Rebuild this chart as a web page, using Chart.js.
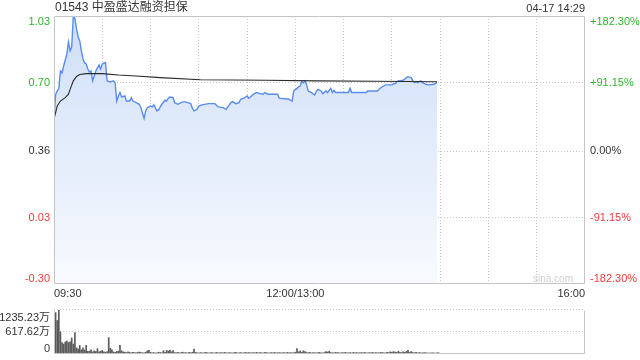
<!DOCTYPE html>
<html>
<head>
<meta charset="utf-8">
<script src="https://cdn.jsdelivr.net/npm/chart.js@4"></script>
<style>
body { margin:0; width:640px; height:360px; overflow:hidden; background:#fff; position:relative;
       font-family:"Liberation Sans","Noto Sans CJK SC",sans-serif; }
canvas { position:absolute; left:0; }
#main { top:0; }
#vol { top:290px; }
.txt { position:absolute; top:0; font-size:12px; line-height:14px; color:#333; white-space:nowrap; }
#title { left:55px; }
#stamp { right:55px; top:1px; font-size:11px; }
#sina { left:533px; top:273px; font-size:10px; line-height:12px; color:#cfcfcf; }
</style>
</head>
<body>
<canvas id="main" width="640" height="300"></canvas>
<canvas id="vol" width="640" height="80"></canvas>
<div class="txt" id="title">01543 中盈盛达融资担保</div>
<div class="txt" id="stamp">04-17 14:29</div>
<div class="txt" id="sina">sina.com</div>
<script>
// minutes since 09:30 (lunch break removed, 12:00 = 13:00 = 150)
const priceMinutes = [
  0,1,2,3,4,5,6,8,9,10,
  11,12,13,14,15,16,17,18,19,20,
  21,22,23,24,26,28,29,30,32,33,
  35,37,38,39,40,41,42,44,45,47,
  48,49,51,53,54,56,57,58,60,61,
  62,64,65,67,69,70,71,72,74,75,
  77,79,81,83,85,86,87,89,90,92,
  96,100,102,105,107,108,110,111,113,115,
  116,118,120,121,122,124,126,128,130,131,
  133,139,140,146,148,149,151,153,154,155,
  156,157,158,160,162,163,164,166,167,169,
  170,171,172,173,174,175,183,184,185,194,
  195,201,202,203,206,210,211,212,213,214,
  217,219,220,222,223,224,225,226,228,229,
  231,233,236,238
];
const prices = [
  0.519,0.640,0.658,0.670,0.757,0.747,0.782,0.842,0.901,0.857,
  0.876,1.030,1.016,0.966,0.926,0.906,0.857,0.817,0.797,0.792,
  0.767,0.752,0.757,0.708,0.757,0.787,0.767,0.792,0.799,0.708,
  0.703,0.708,0.698,0.608,0.633,0.650,0.628,0.633,0.608,0.608,
  0.625,0.608,0.600,0.592,0.575,0.522,0.559,0.575,0.583,0.579,
  0.589,0.559,0.564,0.592,0.612,0.608,0.622,0.628,0.625,0.600,
  0.592,0.600,0.605,0.600,0.595,0.572,0.559,0.567,0.583,0.589,
  0.595,0.595,0.579,0.575,0.567,0.579,0.600,0.605,0.595,0.600,
  0.617,0.622,0.633,0.622,0.628,0.642,0.650,0.645,0.642,0.650,
  0.642,0.642,0.622,0.617,0.608,0.658,0.671,0.683,0.704,0.698,
  0.708,0.688,0.658,0.650,0.638,0.655,0.666,0.658,0.645,0.658,
  0.650,0.661,0.671,0.650,0.661,0.650,0.650,0.671,0.650,0.650,
  0.658,0.658,0.666,0.674,0.688,0.688,0.694,0.694,0.704,0.708,
  0.711,0.724,0.729,0.724,0.708,0.699,0.704,0.699,0.708,0.699,
  0.691,0.688,0.691,0.699
];
const avgMinutes = [0,1,2,4,7,9,10,12,14,16,20,30,40,51,66,91,132,163,200,238];
const avgPrices = [0.519,0.550,0.584,0.608,0.625,0.642,0.666,0.708,0.730,0.740,
                   0.744,0.744,0.737,0.732,0.724,0.714,0.711,0.708,0.706,0.704];

// volume per minute (万), first bar = 09:31
const volumes = [
  1160,940,1235,620,320,280,340,360,320,340,450,280,600,175,140,240,115,175,115,240,75,
  80,120,60,90,70,150,60,80,100,60,50,70,460,160,115,
  60,50,70,80,240,90,60,50,40,60,
  45,35,50,40,30,45,55,40,35,30,50,90,100,45,35,
  40,30,35,50,40,35,90,45,100,80,110,60,95,40,35,45,30,40,50,35,
  40,30,45,35,50,140,45,35,30,40,35,30,45,40,30,35,40,30,35,45,
  30,35,40,30,45,35,30,40,35,30,40,45,30,35,40,30,35,45,30,40,
  35,30,40,35,45,30,40,35,30,45,40,35,30,40,35,45,30,35,40,30,
  35,40,30,45,35,40,30,35,50,150,60,85,45,90,70,40,35,45,30,40,
  35,30,40,45,35,30,40,70,55,75,40,35,30,45,40,35,30,40,35,45,
  30,35,40,30,45,35,40,30,35,40,30,45,35,30,40,35,45,30,40,35,
  30,45,40,35,30,50,40,60,45,70,55,45,80,50,40,60,45,70,100,45,
  70,40,35,45,30,40,35,30,40,35,30,25,30,35,30,25,30,35
];

const priceTicks = [-0.30, 0.03, 0.36, 0.70, 1.03];
const priceLabels = ['-0.30', '0.03', '0.36', '0.70', '1.03'];
const pctLabels = ['-182.30%', '-91.15%', '0.00%', '+91.15%', '+182.30%'];
const timeTicks = [0,30,60,90,120,150,180,210,240,270,300,330];
const timeLabelMinutes = [0, 150, 330];
const timeLabels = ['09:30', '12:00/13:00', '16:00'];
const volTicks = [0, 617.615, 1235.23];
const volLabels = ['0', '617.62万', '1235.23万'];

const FONT = '"Liberation Sans","Noto Sans CJK SC",sans-serif';
const GREEN = '#2db52d', RED = '#f23b3b', DARK = '#333';
const GRID = '#c8c8c8', FRAME = '#c4c4c4';

const framePlugin = {
  id: 'frame',
  afterDraw(chart, args, opts) {
    const {ctx, chartArea: a} = chart;
    const l = Math.round(a.left) + 0.5, r = Math.round(a.right) - 0.5;
    const t = Math.round(a.top) + 0.5, b = Math.round(a.bottom) - 0.5;
    ctx.save();
    ctx.strokeStyle = FRAME;
    ctx.lineWidth = 1;
    ctx.beginPath();
    if (opts.top !== false) { ctx.moveTo(l, t); ctx.lineTo(r, t); }
    ctx.moveTo(l, t); ctx.lineTo(l, b);
    ctx.moveTo(r, t); ctx.lineTo(r, b);
    ctx.moveTo(l, b); ctx.lineTo(r, b);
    ctx.stroke();
    ctx.restore();
  }
};

function labelColor(i) {
  const mid = (priceTicks.length - 1) / 2;
  return i > mid ? GREEN : (i < mid ? RED : DARK);
}
function edgeLabel(text, i, n) {
  if (i === n - 1) return ['', text];
  if (i === 0) return [text, ''];
  return text;
}

function priceFill(context) {
  const {ctx, chartArea} = context.chart;
  if (!chartArea) return 'rgba(0,0,0,0)';
  const g = ctx.createLinearGradient(0, chartArea.top, 0, chartArea.bottom);
  g.addColorStop(0, '#cfdff8');
  g.addColorStop(1, '#f8fafe');
  return g;
}

new Chart(document.getElementById('main'), {
  type: 'line',
  data: {
    datasets: [
      {
        data: avgMinutes.map((m, i) => ({x: m, y: avgPrices[i]})),
        borderColor: '#2a2a2a', borderWidth: 1.1, pointRadius: 0, fill: false, order: 0
      },
      {
        data: priceMinutes.map((m, i) => ({x: m, y: prices[i]})),
        borderColor: '#5a8cf0', borderWidth: 1.4, pointRadius: 0,
        fill: 'start', backgroundColor: priceFill, order: 1
      }
    ]
  },
  options: {
    responsive: false, animation: false, devicePixelRatio: 1,
    layout: {padding: {top: 15, left: 0, right: 0, bottom: 0}},
    plugins: {legend: {display: false}, tooltip: {enabled: false}, frame: {}},
    scales: {
      x: {
        type: 'linear', min: 0, max: 330, offset: false,
        afterBuildTicks: s => { s.ticks = timeTicks.map(v => ({value: v})); },
        afterFit: s => { s.height = 16; },
        border: {display: false, dash: [1, 2]},
        grid: {
          drawTicks: false,
          color: c => (c.index === 0 || c.index === timeTicks.length - 1) ? 'rgba(0,0,0,0)' : GRID
        },
        ticks: {
          autoSkip: false, maxRotation: 0, align: 'inner', padding: 3, color: DARK,
          font: {family: FONT, size: 11},
          callback: v => {
            const k = timeLabelMinutes.indexOf(v);
            return k >= 0 ? timeLabels[k] : '';
          }
        }
      },
      y: {
        position: 'left', min: -0.30, max: 1.03,
        afterBuildTicks: s => { s.ticks = priceTicks.map(v => ({value: v})); },
        afterFit: s => { s.width = 54; },
        border: {display: false, dash: [1, 2]},
        grid: {
          drawTicks: false,
          color: c => (c.index === 0 || c.index === priceTicks.length - 1) ? 'rgba(0,0,0,0)' : GRID
        },
        ticks: {
          autoSkip: false, padding: 4, color: c => labelColor(c.index),
          font: {family: FONT, size: 11, lineHeight: 1},
          callback: (v, i) => edgeLabel(priceLabels[i], i, priceTicks.length)
        }
      },
      y2: {
        position: 'right', min: -0.30, max: 1.03,
        afterBuildTicks: s => { s.ticks = priceTicks.map(v => ({value: v})); },
        afterFit: s => { s.width = 55; },
        border: {display: false},
        grid: {display: false, drawTicks: false},
        ticks: {
          autoSkip: false, padding: 5, color: c => labelColor(c.index),
          font: {family: FONT, size: 11, lineHeight: 1},
          callback: (v, i) => edgeLabel(pctLabels[i], i, priceTicks.length)
        }
      }
    }
  },
  plugins: [framePlugin]
});

new Chart(document.getElementById('vol'), {
  type: 'bar',
  data: {
    datasets: [{
      data: volumes.map((v, i) => ({x: i + 1, y: v})),
      backgroundColor: '#5a5a5a', barThickness: 1
    }]
  },
  options: {
    responsive: false, animation: false, devicePixelRatio: 1,
    layout: {padding: {top: 14, left: 0, right: 55, bottom: 16}},
    plugins: {legend: {display: false}, tooltip: {enabled: false}, frame: {top: false}},
    scales: {
      x: {type: 'linear', min: 0, max: 330, offset: false, display: false},
      y: {
        min: 0, max: 1235.23,
        afterBuildTicks: s => { s.ticks = volTicks.map(v => ({value: v})); },
        afterFit: s => { s.width = 54; },
        border: {display: false, dash: [1, 2]},
        grid: {
          drawTicks: false,
          color: c => c.index === 0 ? 'rgba(0,0,0,0)' : GRID
        },
        ticks: {
          autoSkip: false, padding: 4, color: DARK,
          font: c => ({family: FONT, size: 11, lineHeight: c.index === volTicks.length - 1 ? 1.45 : 0.9}),
          callback: (v, i) => edgeLabel(volLabels[i], i, volTicks.length)
        }
      }
    }
  },
  plugins: [framePlugin]
});
</script>
</body>
</html>
